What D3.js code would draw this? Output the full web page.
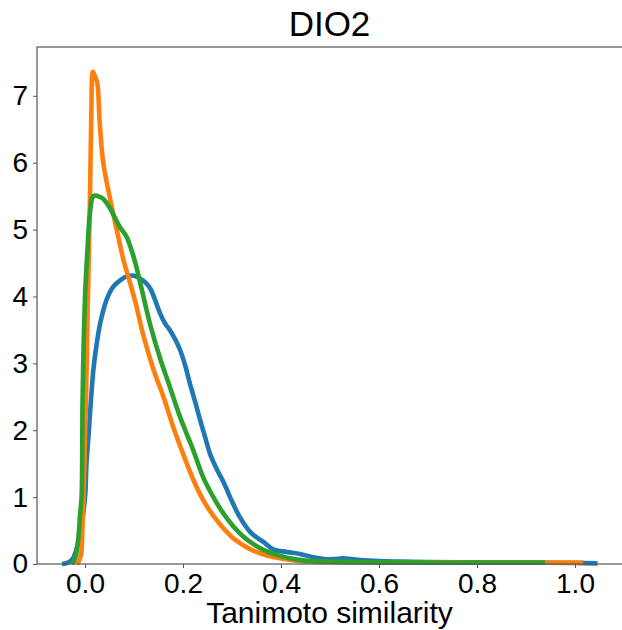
<!DOCTYPE html>
<html>
<head>
<meta charset="utf-8">
<script src="https://cdn.jsdelivr.net/npm/d3@7"></script>
<style>
  html, body { margin: 0; padding: 0; background: #fff; }
  svg { display: block; font-family: "Liberation Sans", Arial, sans-serif; }
</style>
</head>
<body>
<svg id="chart" width="622" height="630"></svg>
<script>
// Kernel density estimates of Tanimoto similarity, three compound sets
const blueCurve = [
  [-0.047, 0.0], [-0.035, 0.02], [-0.025, 0.08], [-0.02, 0.16], [-0.01, 0.46],
  [0.0, 1.0], [0.003, 1.5], [0.007, 1.9], [0.017, 2.9], [0.024, 3.3],
  [0.031, 3.6], [0.044, 3.95], [0.055, 4.12], [0.065, 4.2], [0.085, 4.3],
  [0.1, 4.31], [0.112, 4.27], [0.123, 4.21], [0.133, 4.12], [0.143, 3.95],
  [0.153, 3.75], [0.163, 3.6], [0.173, 3.5], [0.184, 3.36], [0.194, 3.2],
  [0.204, 2.98], [0.214, 2.7], [0.225, 2.42], [0.235, 2.15], [0.245, 1.9],
  [0.255, 1.65], [0.27, 1.4], [0.283, 1.22], [0.296, 1.0], [0.316, 0.7],
  [0.337, 0.48], [0.35, 0.4], [0.364, 0.33], [0.384, 0.22], [0.412, 0.18],
  [0.439, 0.15], [0.466, 0.1], [0.493, 0.07], [0.51, 0.075], [0.527, 0.085],
  [0.545, 0.07], [0.561, 0.06], [0.6, 0.045], [0.65, 0.035], [0.7, 0.03],
  [0.8, 0.025], [0.9, 0.02], [1.0, 0.015], [1.046, 0.01]
];

const orangeCurve = [
  [-0.017, 0.0], [-0.012, 0.05], [-0.008, 0.15], [-0.005, 0.6], [-0.003, 1.0],
  [0.0, 1.9], [0.002, 2.45], [0.005, 3.65], [0.01, 5.44], [0.013, 6.8],
  [0.016, 7.36], [0.02, 7.3], [0.025, 7.19], [0.03, 6.6], [0.037, 6.01],
  [0.05, 5.5], [0.065, 4.99], [0.078, 4.56], [0.092, 4.2], [0.105, 3.85],
  [0.119, 3.42], [0.14, 2.9], [0.16, 2.5], [0.18, 2.05], [0.2, 1.65],
  [0.221, 1.26], [0.24, 0.97], [0.262, 0.72], [0.283, 0.53], [0.303, 0.38],
  [0.323, 0.28], [0.343, 0.2], [0.37, 0.13], [0.398, 0.085], [0.43, 0.05],
  [0.47, 0.035], [0.5, 0.03], [0.6, 0.025], [0.7, 0.02], [0.8, 0.02],
  [0.9, 0.02], [1.0, 0.02], [1.017, 0.02]
];

const greenCurve = [
  [-0.027, 0.0], [-0.02, 0.09], [-0.014, 0.36], [-0.01, 0.75], [-0.007, 1.0],
  [-0.005, 2.45], [0.0, 4.0], [0.005, 4.7], [0.01, 5.24], [0.017, 5.5],
  [0.027, 5.5], [0.037, 5.46], [0.051, 5.32], [0.061, 5.18], [0.071, 5.04],
  [0.085, 4.89], [0.095, 4.69], [0.102, 4.52], [0.116, 4.1], [0.133, 3.58],
  [0.153, 3.08], [0.173, 2.65], [0.194, 2.2], [0.21, 1.9], [0.221, 1.7],
  [0.241, 1.3], [0.262, 1.0], [0.282, 0.76], [0.303, 0.56], [0.323, 0.41],
  [0.343, 0.3], [0.364, 0.21], [0.39, 0.14], [0.418, 0.085], [0.45, 0.05],
  [0.5, 0.035], [0.6, 0.025], [0.7, 0.02], [0.8, 0.02], [0.939, 0.02]
];

const seriesColors = ["#1f77b4", "#ff7f0e", "#2ca02c"];
const xTicks = [0.0, 0.2, 0.4, 0.6, 0.8, 1.0];
const yTicks = [0, 1, 2, 3, 4, 5, 6, 7];
const titleText = "DIO2";
const xLabelText = "Tanimoto similarity";

const svg = d3.select("#chart");
// the right edge of the axes box sits past the page edge
const plot = { left: 37, right: 624, top: 47, bottom: 564 };

const x = d3.scaleLinear().domain([-0.098, 1.1]).range([plot.left, plot.right]);
const y = d3.scaleLinear().domain([0, 7.73]).range([plot.bottom, plot.top]);

const line = d3.line()
  .x(d => x(d[0]))
  .y(d => y(d[1]))
  .curve(d3.curveCatmullRom.alpha(0.5));

const curves = [blueCurve, orangeCurve, greenCurve];
svg.append("g")
  .selectAll("path")
  .data(curves)
  .join("path")
  .attr("d", line)
  .attr("fill", "none")
  .attr("stroke", (d, i) => seriesColors[i])
  .attr("stroke-width", 4.6)
  .attr("stroke-linejoin", "round")
  .attr("stroke-linecap", "butt");

// axes
const xAxis = svg.append("g")
  .attr("transform", `translate(0,${plot.bottom})`)
  .call(d3.axisBottom(x).tickValues(xTicks).tickFormat(d3.format(".1f")).tickSize(4).tickPadding(5).tickSizeOuter(0));
const yAxis = svg.append("g")
  .attr("transform", `translate(${plot.left},0)`)
  .call(d3.axisLeft(y).tickValues(yTicks).tickFormat(d3.format("d")).tickSize(4).tickPadding(5).tickSizeOuter(0));

[xAxis, yAxis].forEach(g => {
  g.select(".domain").remove();
  g.selectAll(".tick line").attr("stroke", "#555").attr("stroke-width", 1);
  g.selectAll(".tick text")
    .attr("fill", "#000")
    .style("font-size", "28px")
    .style("font-family", "'Liberation Sans', Arial, sans-serif");
});

// frame
svg.append("rect")
  .attr("x", plot.left)
  .attr("y", plot.top)
  .attr("width", plot.right - plot.left)
  .attr("height", plot.bottom - plot.top)
  .attr("fill", "none")
  .attr("stroke", "#555")
  .attr("stroke-width", 1.2);

svg.append("text")
  .attr("x", 329.5)
  .attr("y", 36)
  .attr("text-anchor", "middle")
  .style("font-size", "35px")
  .text(titleText);

svg.append("text")
  .attr("x", 329.5)
  .attr("y", 623)
  .attr("text-anchor", "middle")
  .style("font-size", "30px")
  .text(xLabelText);
</script>
</body>
</html>
